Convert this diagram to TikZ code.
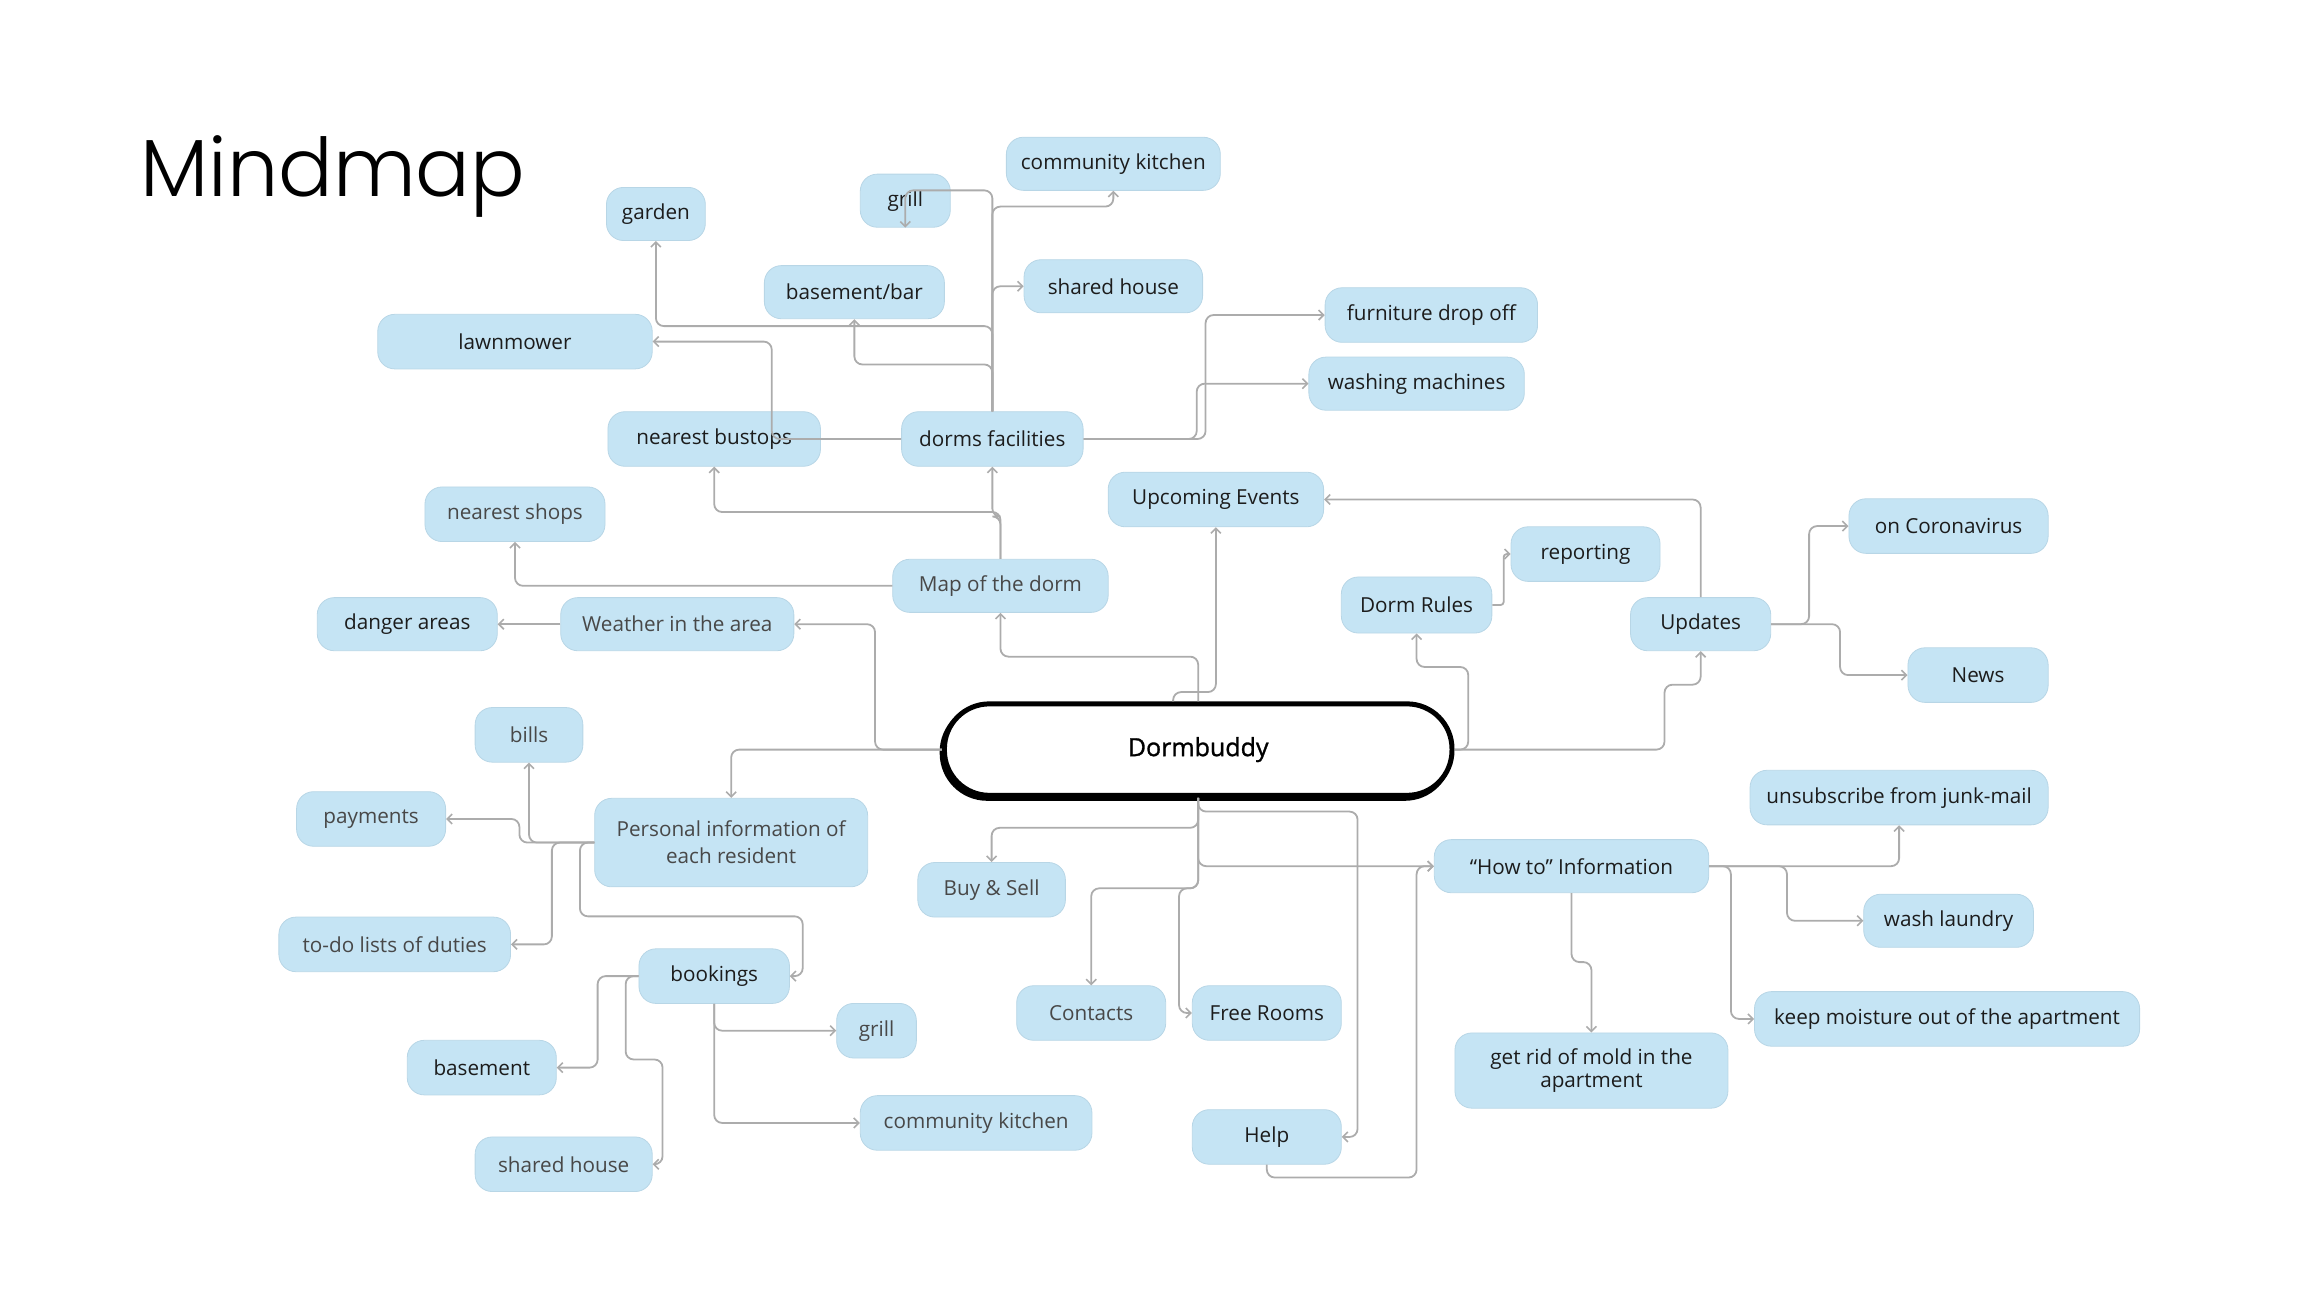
\documentclass[tikz,border=0pt]{standalone}
\usepackage{fontspec}
\setmainfont{Open Sans}
\newfontfamily\titlefont{Poppins Light}
\newfontfamily\dbfont[FakeBold=1.2]{Open Sans}
\usetikzlibrary{arrows.meta,calc}
\definecolor{boxblue}{RGB}{197,228,244}
\definecolor{boxedge}{RGB}{184,214,230}
\definecolor{linegray}{RGB}{172,172,172}
\definecolor{txtdark}{RGB}{28,28,28}
\definecolor{txtgray}{RGB}{72,72,72}
\begin{document}
\begin{tikzpicture}[x=1.4756pt,y=-1.4756pt,
 box/.style={rounded corners=17pt, fill=boxblue, draw=boxedge, line width=0.8pt, font=\fontsize{20.7}{27}\selectfont, text=txtdark, inner sep=0pt, align=center},
 gbox/.style={box, text=txtgray},
 sz/.style 2 args={minimum width=#1*1.4756pt, minimum height=#2*1.4756pt},
 con/.style={draw=linegray, line width=1.8pt, rounded corners=8pt, -{Straight Barb[length=5pt,width=10pt,line width=1.6pt]}},
]
\useasboundingbox (0pt,0pt) rectangle (2313pt,-1309pt);

\node[anchor=base west, font=\titlefont\fontsize{81}{90}\selectfont, inner sep=0pt] (title) at (95,133) {Mindmap};

% nodes
\node[box, sz={67}{36}] (garden) at (444.5,145) {garden};
\node[box, sz={61}{36}] (grillT) at (613.5,136) {grill};
\node[box, sz={145}{36}] (ckT) at (754.5,111) {community kitchen};
\node[box, sz={122}{36}] (bbar) at (579,198) {basement/bar};
\node[box, sz={121}{36}] (shT) at (754.5,194) {shared house};
\node[box, sz={186}{37}] (lawn) at (349,231.5) {lawnmower};
\node[box, sz={144}{37}] (furn) at (970,213.5) {furniture drop off};
\node[box, sz={146}{36}] (wash) at (960,260) {washing machines};
\node[box, sz={144}{37}] (bus) at (484,297.5) {nearest bustops};
\node[box, sz={123}{37}] (df) at (672.5,297.5) {dorms facilities};
\node[box, sz={146}{37}] (up) at (824,338.5) {Upcoming Events};
\node[gbox, sz={122}{37}] (shops) at (349,348.5) {nearest shops};
\node[box, sz={101}{37}] (rep) at (1074.5,375.5) {reporting};
\node[box, sz={135}{37}] (corona) at (1320.5,356.5) {on Coronavirus};
\node[gbox, sz={146}{36}] (map) at (678,397) {Map of the dorm};
\node[box, sz={102}{38}] (rules) at (960,410) {Dorm Rules};
\node[box, sz={122}{36}] (danger) at (276,423) {danger areas};
\node[gbox, sz={158}{36}] (weather) at (459,423) {Weather in the area};
\node[box, sz={95}{36}] (upd) at (1152.5,423) {Updates};
\node[box, sz={95}{37}] (news) at (1340.5,457.5) {News};
\node[gbox, sz={73}{37}] (bills) at (358.5,498) {bills};
\node[gbox, sz={101}{37}] (pay) at (251.5,555) {payments};
\node[gbox, sz={185}{60}] (pers) at (495.5,571) {Personal information of\\each resident};
\node[box, sz={202}{37}] (unsub) at (1287,540.5) {unsubscribe from junk-mail};
\node[gbox, sz={100}{37}] (buy) at (672,603) {Buy \& Sell};
\node[box, sz={186}{36}] (howto) at (1065,587) {“How to” Information};
\node[box, sz={115}{36}] (laundry) at (1320.5,624) {wash laundry};
\node[gbox, sz={157}{37}] (todo) at (267.5,640) {to-do lists of duties};
\node[box, sz={102}{37}] (book) at (484,661.5) {bookings};
\node[gbox, sz={101}{37}] (cont) at (739.5,686.5) {Contacts};
\node[box, sz={101}{37}] (free) at (858.5,686.5) {Free Rooms};
\node[box, sz={261}{37}] (moist) at (1319.5,690.5) {keep moisture out of the apartment};
\node[gbox, sz={54}{37}] (grillB) at (594,698.5) {grill};
\node[box, sz={185}{51}] (mold) at (1078.5,725.5) {get rid of mold in the\\[-4pt]apartment};
\node[box, sz={101}{37}] (base) at (326.5,723.5) {basement};
\node[gbox, sz={157}{37}] (ckB) at (661.5,761) {community kitchen};
\node[box, sz={101}{37}] (help) at (858.5,770.5) {Help};
\node[gbox, sz={120}{37}] (shB) at (382,789) {shared house};

% central node
\node[draw=black, fill=black, rounded corners=45pt, sz={344}{62}, line width=5pt] (dbs) at (810.5,510) {};
\node[draw=black, fill=white, rounded corners=45pt, sz={344}{62}, line width=5pt, font=\dbfont\fontsize{25}{30}\selectfont, text=black] (db) at (812,508) {Dormbuddy};

% connectors: dorms facilities
\draw[con] (df.north) |- (grillT.south |- 0,129) -- (grillT.south);
\draw[con] (df.north) |- (ckT.south |- 0,140) -- (ckT.south);
\draw[con] (df.north) |- (shT.west);
\draw[con] (df.north) |- (garden.south |- 0,221) -- (garden.south);
\draw[con] (df.north) |- (bbar.south |- 0,247) -- (bbar.south);
\draw[con] (df.west) -| (lawn.east -| 523,0) -- (lawn.east);
\draw[con] (df.east) -| (furn.west -| 817,0) -- (furn.west);
\draw[con] (df.east) -| (wash.west -| 811,0) -- (wash.west);

% map of the dorm
\draw[con] (map.north) |- (bus.south |- 0,347) -- (bus.south);
\draw[con] (map.north) |- (df.south |- 0,350) -- (df.south);
\draw[con] (map.west) -| (shops.south);

% Dormbuddy upwards / sides
\draw[con] (db.west) -| (weather.east -| 593,0) -- (weather.east);
\draw[con] (weather.west) -- (danger.east);
\draw[con] (db.north -| 812,0) |- (map.south |- 0,445) -- (map.south);
\draw[con] (db.north -| 795,0) |- (up.south |- 0,469) -- (up.south);
\draw[con] (upd.north) |- (up.east);
\draw[con] (db.east) -| (995,452) -| (rules.south);
\draw[con] (db.east) -| (1128,464) -| (upd.south);
\draw[con, rounded corners=3pt] (rules.east) -| (rep.west -| 1019,0) -- (rep.west);
\draw[con] (upd.east) -| (corona.west -| 1226,0) -- (corona.west);
\draw[con] (upd.east) -| (news.west -| 1247,0) -- (news.west);

% personal information
\draw[con] (db.west) -| (pers.north);
\draw[con] (pers.west) -| (bills.south);
\draw[con] (pers.west) -| (pay.east -| 352,0) -- (pay.east);
\draw[con] (pers.west) -| (todo.east -| 374,0) -- (todo.east);
\draw[con] (pers.west) -| (393,621) -| (544,640) |- (book.east);

% bookings
\draw[con] (book.west) -| (base.east -| 405,0) -- (base.east);
\draw[con] (book.west) -| (424,718) -| (449,770) |- (shB.east);
\draw[con] (book.south) |- (grillB.west);
\draw[con] (book.south) |- (ckB.west);

% Dormbuddy downwards
\draw[con] (db.south) |- (buy.north |- 0,561) -- (buy.north);
\draw[con] (db.south) |- (920,550) |- (help.east);
\draw[con] (db.south) |- (howto.west);
\draw[con] (db.south) |- (cont.north |- 0,602) -- (cont.north);
\draw[con] (db.south) |- (799,602) |- (free.west);
\draw[con] (help.south) |- (960,798) |- (howto.west);

% how to
\draw[con] (howto.east) -| (unsub.south);
\draw[con] (howto.east) -| (laundry.west -| 1211,0) -- (laundry.west);
\draw[con] (howto.east) -| (moist.west -| 1173,0) -- (moist.west);
\draw[con] (howto.south) |- (mold.north |- 0,652) -- (mold.north);
\end{tikzpicture}
\end{document}
